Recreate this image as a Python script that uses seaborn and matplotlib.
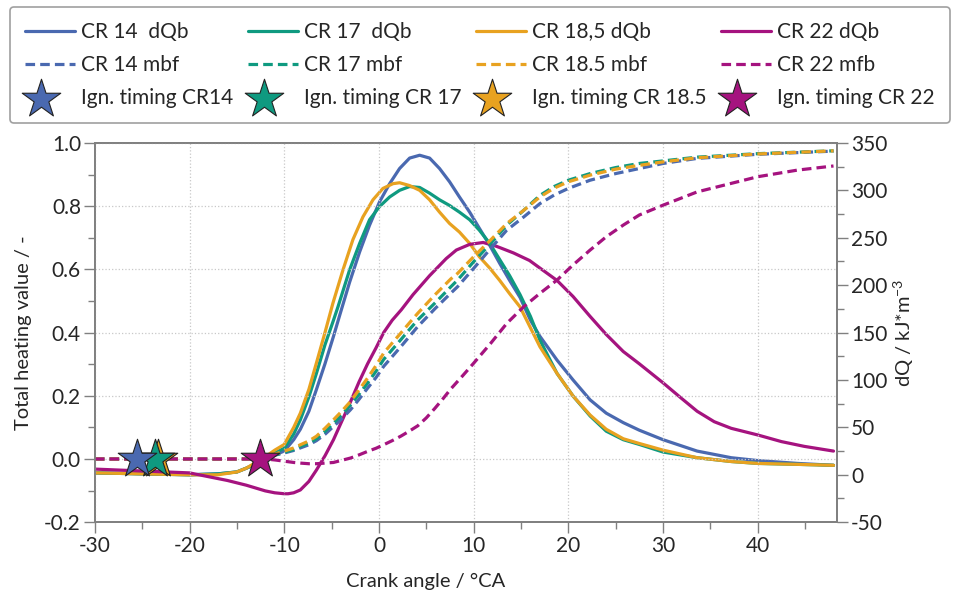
import numpy as np
import pandas as pd
import matplotlib
matplotlib.use("Agg")
import matplotlib.pyplot as plt
import seaborn as sns
from matplotlib.ticker import MultipleLocator, FormatStrFormatter
from matplotlib.legend_handler import HandlerPathCollection

# ---------------- data ----------------
# Heat release rate dQb (right axis, kJ/m^3)
x_cr14_dqb = [-30, -25, -20, -17, -15, -14, -13, -12, -11, -10, -9, -8.3, -7.4, -6.6, -5.7, -4.8, -4.15,
              -3.1, -2.04, -1.0, 0.07, 1.13, 2.18, 3.24, 4.3, 5.35, 6.4, 7.46, 8.5, 9.58, 10.6, 11.7,
              12.75, 13.8, 14.9, 16, 17, 18.8, 20.5, 22.3, 24, 25.8, 27.5, 30, 33.6, 37.2, 40, 44.2, 48]
y_cr14_dqb = [2, 1, 0, 1, 3, 7, 11, 17, 21, 25, 37, 48, 67, 90, 117, 146, 168,
              203, 235, 263, 288, 307, 323, 334, 337, 334, 323, 309, 293, 277, 260, 242,
              223, 205, 187, 163, 146, 121, 100, 79, 65, 55, 47, 37, 25, 18, 15, 12, 10]

x_cr17_dqb = [-30, -25, -20, -17, -15, -14, -13, -12, -11, -10, -9, -8.3, -7.4, -6.6, -5.7, -4.8, -4.33,
              -3.1, -2.04, -0.99, 0.07, 1.13, 2.18, 3.24, 4.3, 5.35, 6.4, 7.46, 8.5, 9.58, 10.6, 11.7,
              12.75, 13.8, 14.9, 16, 17, 18.8, 20.5, 22.3, 24, 25.8, 27.5, 30, 33.6, 37.2, 40, 44.2, 48]
y_cr17_dqb = [2, 1, 0, 1, 3, 7, 12, 18, 23, 28, 43, 58, 82, 107, 137, 163, 177,
              216, 244, 269, 283, 293, 300, 304, 303, 297, 290, 284, 277, 269, 258, 244,
              227, 210, 190, 167, 142, 107, 83, 62, 46, 37, 32, 24, 18, 14, 12, 11, 10]

x_cr185_dqb = [-30, -25, -20, -17, -15, -14, -13, -12, -11, -10, -9, -8.3, -7.4, -6.6, -5.7, -4.86, -3.8,
               -2.75, -1.69, -0.63, 0.42, 1.48, 2.18, 3.24, 4.3, 5.35, 6.4, 7.46, 8.5, 9.58, 10.6, 11.7,
               12.75, 13.8, 14.9, 16, 17, 18.8, 20.5, 22.3, 24, 25.8, 27.5, 30, 33.6, 37.2, 40, 44.2, 48]
y_cr185_dqb = [2, 1, 0, 0, 3, 7, 13, 19, 26, 32, 50, 65, 90, 118, 150, 181, 216,
               248, 272, 290, 302, 307, 308, 305, 300, 290, 277, 265, 256, 244, 230, 218,
               205, 191, 177, 155, 135, 107, 83, 63, 48, 38, 33, 26, 18, 14, 12, 11, 10]

x_cr22_dqb = [-30, -25, -20, -18, -16, -14, -12, -11, -10, -9.6, -9, -8.3, -7.4, -6.6, -5.7, -4.8, -3.9,
              -3, -2.1, -1.2, -0.3, 0.5, 1.4, 2.36, 3.6, 5.35, 7.1, 8.17, 9.58, 11, 12.4, 14.2, 15.9,
              17, 18.8, 20.5, 22.3, 24, 25.8, 27.5, 30, 31.9, 33.6, 35.4, 37.2, 40, 42.5, 44.9, 48]
y_cr22_dqb = [6, 4, 2, -2, -6, -11, -17, -19, -20, -20, -19, -16, -7, 5, 20, 37, 57,
              77, 98, 117, 134, 150, 163, 174, 190, 210, 228, 237, 243, 245, 241, 234, 226,
              218, 205, 188, 167, 148, 130, 117, 97, 81, 67, 56, 49, 42, 35, 30, 25]

# Mass burned fraction (left axis, -)
x_cr14_mbf = [-30, -13, -12, -11, -10, -9, -8.3, -7.4, -6.6, -5.7, -4.8, -3.9, -3, -2.1, -1.2, -0.3, 0.5,
              1.4, 2.3, 3.2, 4.1, 5.9, 7.6, 8.3, 10, 11.8, 13.5, 15.3, 17, 18.5, 20, 22.3, 25, 27.5,
              30, 33.6, 40, 48]
y_cr14_mbf = [0, 0, 0.004, 0.012, 0.019, 0.027, 0.035, 0.045, 0.058, 0.078, 0.103, 0.128, 0.156, 0.189,
              0.224, 0.258, 0.293, 0.324, 0.355, 0.387, 0.419, 0.475, 0.525, 0.545, 0.603, 0.666, 0.724,
              0.766, 0.808, 0.835, 0.856, 0.882, 0.903, 0.919, 0.935, 0.951, 0.964, 0.974]

x_cr17_mbf = [-30, -13, -12, -11, -10, -9, -8.3, -7.4, -6.6, -5.7, -4.8, -3.9, -3, -2.1, -1.2, -0.3, 0.5,
              1.4, 2.3, 3.2, 4.1, 5.9, 7.6, 8.3, 10, 11.8, 13.5, 15.3, 17, 18.5, 20, 22.3, 25, 27.5,
              30, 33.6, 40, 48]
y_cr17_mbf = [0, 0, 0.004, 0.013, 0.021, 0.030, 0.040, 0.050, 0.064, 0.087, 0.113, 0.141, 0.171, 0.205,
              0.240, 0.278, 0.315, 0.346, 0.377, 0.409, 0.440, 0.493, 0.545, 0.566, 0.624, 0.682, 0.740,
              0.787, 0.834, 0.862, 0.882, 0.903, 0.922, 0.935, 0.943, 0.955, 0.966, 0.975]

x_cr185_mbf = [-30, -13, -12, -11, -10, -9, -8.3, -7.4, -6.6, -5.7, -4.8, -3.9, -3, -2.1, -1.2, -0.3, 0.5,
               1.4, 2.3, 3.2, 4.1, 5.9, 7.6, 8.3, 10, 11.8, 13.5, 15.3, 17, 18.5, 20, 22.3, 25, 27.5,
               30, 33.6, 40, 48]
y_cr185_mbf = [0, 0, 0.005, 0.015, 0.025, 0.035, 0.045, 0.057, 0.072, 0.097, 0.124, 0.152, 0.182, 0.219,
               0.256, 0.296, 0.335, 0.367, 0.398, 0.430, 0.461, 0.519, 0.570, 0.587, 0.640, 0.693, 0.745,
               0.787, 0.829, 0.857, 0.877, 0.898, 0.917, 0.929, 0.940, 0.953, 0.965, 0.975]

x_cr22_mfb = [-30, -13, -12, -11, -10, -9, -8.3, -7.4, -6.6, -5.7, -4.8, -3.9, -3, -2.1, -1.2, -0.3, 0.5,
              1.4, 2.3, 3.2, 4.1, 5.0, 5.9, 6.8, 7.6, 8.8, 10, 11.8, 13.5, 15.3, 17, 18.8, 20.5, 22.3,
              24, 25.8, 27.5, 30, 33.6, 37.2, 40, 44.2, 48]
y_cr22_mfb = [0, 0, 0, -0.003, -0.007, -0.011, -0.013, -0.015, -0.015, -0.013, -0.011, -0.004, 0.003,
              0.013, 0.024, 0.034, 0.045, 0.058, 0.072, 0.088, 0.105, 0.130, 0.160, 0.192, 0.222, 0.262,
              0.303, 0.366, 0.429, 0.482, 0.524, 0.566, 0.614, 0.661, 0.703, 0.740, 0.772, 0.803, 0.845,
              0.872, 0.893, 0.914, 0.927]

# Ignition timing (°CA) at total heating value 0
ign_timing = [-25.5, -23.7, -23.3, -12.6]
ign_value = [0, 0, 0, 0]

labels_dqb = ["CR 14  dQb", "CR 17  dQb", "CR 18,5 dQb", "CR 22 dQb"]
labels_mbf = ["CR 14 mbf", "CR 17 mbf", "CR 18.5 mbf", "CR 22 mfb"]
labels_ign = ["Ign. timing CR14", "Ign. timing CR 17", "Ign. timing CR 18.5", "Ign. timing CR 22"]

colors = ["#4a69b0", "#0f9a80", "#e8a220", "#a5137f"]

# ---------------- style ----------------
sns.set_theme(style="white")
plt.rcParams['font.family'] = ['Lato', 'DejaVu Sans']
plt.rcParams['axes.unicode_minus'] = False
plt.rcParams['mathtext.fontset'] = 'custom'
plt.rcParams['mathtext.rm'] = 'Lato'
plt.rcParams['mathtext.it'] = 'Lato:italic'

fig = plt.figure(figsize=(9.58, 6.03), dpi=100)
ax = fig.add_axes([0.099, 0.134, 0.775, 0.629])
ax2 = ax.twinx()
ax.set_zorder(ax2.get_zorder() + 1)
ax.patch.set_visible(False)

dqb_x = [x_cr14_dqb, x_cr17_dqb, x_cr185_dqb, x_cr22_dqb]
dqb_y = [y_cr14_dqb, y_cr17_dqb, y_cr185_dqb, y_cr22_dqb]
mbf_x = [x_cr14_mbf, x_cr17_mbf, x_cr185_mbf, x_cr22_mfb]
mbf_y = [y_cr14_mbf, y_cr17_mbf, y_cr185_mbf, y_cr22_mfb]

h_dqb, h_mbf, h_ign = [None] * 4, [None] * 4, [None] * 4
for i in range(4):
    sns.lineplot(x=dqb_x[i], y=dqb_y[i], ax=ax2, color=colors[i], linewidth=2.3,
                 label=labels_dqb[i], legend=False)
    h_dqb[i] = ax2.lines[-1]

for i in range(4):
    sns.lineplot(x=mbf_x[i], y=mbf_y[i], ax=ax, color=colors[i], linewidth=2.3,
                 label=labels_mbf[i], legend=False)
    ln = ax.lines[-1]
    ln.set_dashes((3, 1.6))
    h_mbf[i] = ln

for i in [3, 2, 1, 0]:
    sns.scatterplot(x=[ign_timing[i]], y=[ign_value[i]], ax=ax, marker="*", s=850,
                    color=colors[i], edgecolor="#222222", linewidth=0.8, zorder=5,
                    label=labels_ign[i], legend=False)
    h_ign[i] = ax.collections[-1]

# ---------------- axes ----------------
ax.set_xlim(-30, 48.4)
ax.set_ylim(-0.2, 1.0)
ax2.set_ylim(-50, 350)

ax.xaxis.set_major_locator(MultipleLocator(10))
ax.xaxis.set_minor_locator(MultipleLocator(5))
ax.yaxis.set_major_locator(MultipleLocator(0.2))
ax.yaxis.set_minor_locator(MultipleLocator(0.1))
ax2.yaxis.set_major_locator(MultipleLocator(50))
ax2.yaxis.set_minor_locator(MultipleLocator(25))
ax.yaxis.set_major_formatter(FormatStrFormatter('%.1f'))

ax.grid(True, which="major", color="#c8c8c8", linestyle=":", linewidth=0.9)

spine_c = "#808080"
for a in (ax, ax2):
    for s in a.spines.values():
        s.set_color(spine_c)
        s.set_linewidth(1.3)

ax.tick_params(axis="both", which="major", direction="out", length=8, width=1, color=spine_c,
               labelsize=15, pad=2, bottom=True, left=True)
ax.tick_params(axis="both", which="minor", direction="out", length=5, width=1, color=spine_c,
               bottom=True, left=True)
ax2.tick_params(axis="y", which="major", direction="out", length=8, width=1, color=spine_c,
                labelsize=15, pad=2, right=True)
ax2.tick_params(axis="y", which="minor", direction="out", length=5, width=1, color=spine_c, right=True)

ax.set_xlabel("Crank angle / °CA", fontsize=14.5)
ax.xaxis.set_label_coords(0.446, -0.135)
ax.set_ylabel("Total heating value / -", fontsize=14.5)
ax.yaxis.set_label_coords(-0.085, 0.5)
ax2.set_ylabel("dQ / kJ*m$^{-3}$", fontsize=14.5)
ax2.yaxis.set_label_coords(1.073, 0.5)


# ---------------- legend ----------------
class LeftMarkerHandler(HandlerPathCollection):
    """Place the legend star toward the left of the handle box."""
    def get_xdata(self, legend, xdescent, ydescent, width, height, fontsize):
        x = [-xdescent + 0.33 * width]
        return x, x


handles, labels = [], []
for i in range(4):
    handles += [h_dqb[i], h_mbf[i], h_ign[i]]
    labels += [labels_dqb[i], labels_mbf[i], labels_ign[i]]

handler_map = {h: LeftMarkerHandler() for h in h_ign}

leg = fig.legend(handles, labels, ncol=4, loc="upper left",
                 bbox_to_anchor=(0.0104, 0.988, 0.981, 0.0), mode="expand",
                 fontsize=15, frameon=True, fancybox=True, handlelength=2.4,
                 handletextpad=0.3, labelspacing=0.62, borderpad=0.72, borderaxespad=0.0,
                 columnspacing=0.4, scatterpoints=1, handler_map=handler_map)
leg.get_frame().set_edgecolor("#888888")
leg.get_frame().set_linewidth(1.2)

fig.savefig("out.png", dpi=100)
